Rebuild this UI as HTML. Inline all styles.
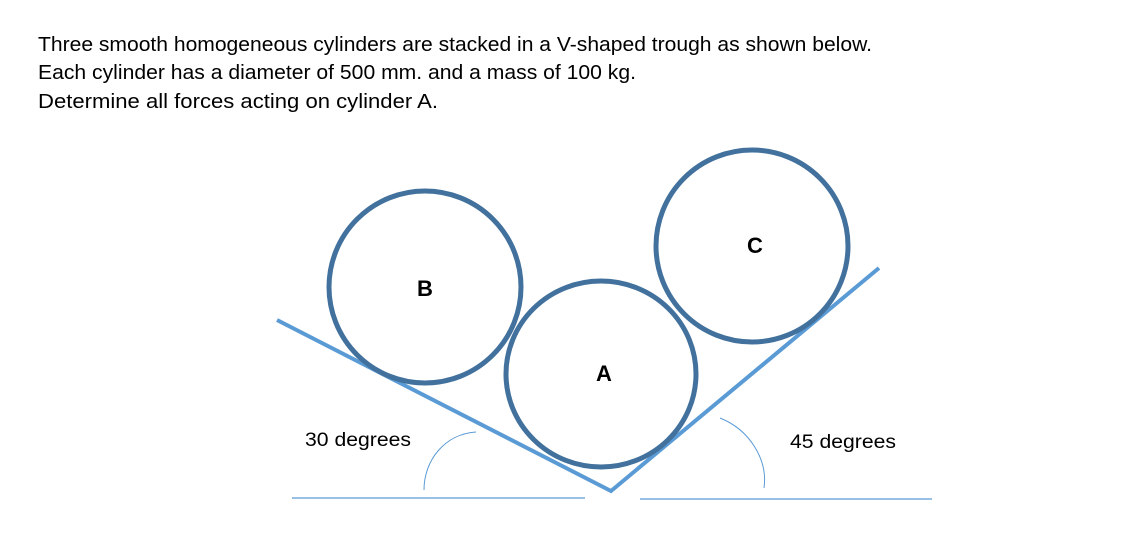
<!DOCTYPE html>
<html><head><style>body{margin:0;background:#fff}svg{display:block}</style></head><body>
<svg width="1125" height="556" viewBox="0 0 1125 556" xmlns="http://www.w3.org/2000/svg" font-family="Liberation Sans, sans-serif">
<rect width="1125" height="556" fill="#fff"/>
<g font-size="20" fill="#000">
<text x="38" y="51" textLength="834" lengthAdjust="spacingAndGlyphs">Three smooth homogeneous cylinders are stacked in a V-shaped trough as shown below.</text>
<text x="38" y="79" textLength="598" lengthAdjust="spacingAndGlyphs">Each cylinder has a diameter of 500 mm. and a mass of 100 kg.</text>
<text x="38" y="108" textLength="400" lengthAdjust="spacingAndGlyphs">Determine all forces acting on cylinder A.</text>
</g>
<g fill="none" stroke="#5b9bd5">
<polyline points="277,320 611,491 879,268" stroke-width="4"/>
<line x1="292" y1="498" x2="585" y2="498" stroke-width="1.3"/>
<line x1="640" y1="499" x2="932" y2="499" stroke-width="1.3"/>
<path d="M424,490 C424,460 445,434 476,432" stroke-width="1"/>
<path d="M720,418 C750,430 768,460 764,488" stroke-width="1"/>
</g>
<g fill="none" stroke="#41719c" stroke-width="5">
<ellipse cx="425" cy="287" rx="96" ry="96"/>
<ellipse cx="601" cy="374" rx="95" ry="93"/>
<ellipse cx="752" cy="246" rx="96" ry="96"/>
</g>
<g font-size="22" font-weight="bold" text-anchor="middle">
<text x="425" y="296">B</text>
<text x="604" y="381">A</text>
<text x="755" y="253">C</text>
</g>
<g font-size="19">
<text x="305" y="446" textLength="106" lengthAdjust="spacingAndGlyphs">30 degrees</text>
<text x="790" y="448" textLength="106" lengthAdjust="spacingAndGlyphs">45 degrees</text>
</g>
</svg>
</body></html>
